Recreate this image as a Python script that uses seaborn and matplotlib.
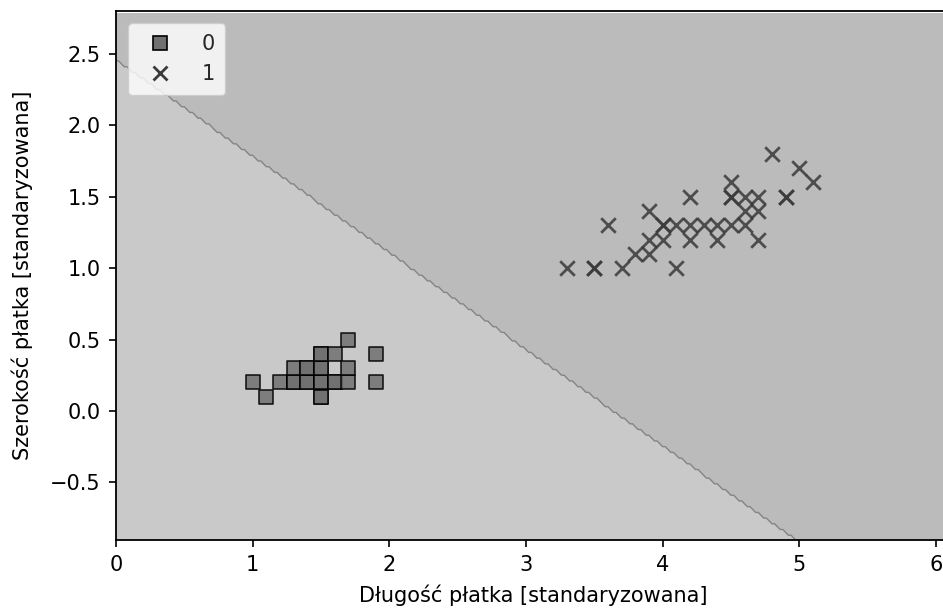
import numpy as np
import pandas as pd
import seaborn as sns
import matplotlib.pyplot as plt
from matplotlib.lines import Line2D

# klasa 0 (kwadraty): dlugosc / szerokosc platka
len_0 = [1.0, 1.1, 1.2, 1.3, 1.3, 1.3, 1.4, 1.4, 1.4, 1.4, 1.5, 1.5, 1.5, 1.5, 1.5, 1.5,
         1.5, 1.5, 1.6, 1.6, 1.6, 1.7, 1.7, 1.7, 1.9, 1.9]
wid_0 = [0.2, 0.1, 0.2, 0.2, 0.2, 0.3, 0.2, 0.2, 0.3, 0.3, 0.1, 0.1, 0.2, 0.2, 0.3, 0.3,
         0.4, 0.4, 0.2, 0.2, 0.4, 0.2, 0.3, 0.5, 0.2, 0.4]

# klasa 1 (krzyzyki)
len_1 = [3.3, 3.5, 3.5, 3.7, 4.1, 3.8, 3.9, 3.9, 4.0, 4.2, 4.4, 4.7, 3.6, 4.0, 4.0, 4.1,
         4.2, 4.3, 4.4, 4.5, 4.6, 3.9, 4.6, 4.7, 4.2, 4.5, 4.5, 4.6, 4.7, 4.9, 4.9, 4.5,
         5.1, 5.0, 4.8]
wid_1 = [1.0, 1.0, 1.0, 1.0, 1.0, 1.1, 1.1, 1.2, 1.2, 1.2, 1.2, 1.2, 1.3, 1.3, 1.3, 1.3,
         1.3, 1.3, 1.3, 1.3, 1.3, 1.4, 1.4, 1.4, 1.5, 1.5, 1.5, 1.5, 1.5, 1.5, 1.5, 1.6,
         1.6, 1.7, 1.8]

# wagi liniowego klasyfikatora (granica decyzyjna)
w_bias, w_len, w_wid = -2.46, 0.676, 1.0

class_labels = ["0", "1"]
region_colors = ["#c9c9c9", "#bbbbbb"]
point_colors = ["#707070", "#3a3a3a"]


def main():
    df = pd.DataFrame({
        "len": len_0 + len_1,
        "wid": wid_0 + wid_1,
        "label": [0] * len(len_0) + [1] * len(len_1),
    })

    sns.set_theme(style="ticks")
    plt.rcParams["font.family"] = ["DejaVu Sans"]
    plt.rcParams["font.size"] = 15

    fig = plt.figure(figsize=(9.43, 6.11), dpi=100)
    ax = fig.add_axes([0.123, 0.117, 0.884, 0.865])

    # siatka regionow decyzyjnych
    x_min, x_max = df["len"].min() - 1, df["len"].max() + 1
    y_min, y_max = df["wid"].min() - 1, df["wid"].max() + 1
    xx, yy = np.meshgrid(np.arange(x_min, x_max, 0.02), np.arange(y_min, y_max, 0.02))
    zz = np.where(w_bias + w_len * xx + w_wid * yy >= 0, 1, 0)
    ax.contourf(xx, yy, zz, levels=[-0.5, 0.5, 1.5], colors=region_colors)
    ax.contour(xx, yy, zz, levels=[0.5], colors="#858585", linewidths=1.0)
    ax.set_xlim(x_min, x_max)
    ax.set_ylim(y_min, y_max)

    d0 = df[df["label"] == 0]
    d1 = df[df["label"] == 1]
    sns.scatterplot(data=d0, x="len", y="wid", marker="s", s=110, color=point_colors[0],
                    edgecolor="black", linewidth=1.2, alpha=0.85, ax=ax, legend=False)
    sns.scatterplot(data=d1, x="len", y="wid", marker="x", s=110, color=point_colors[1],
                    linewidth=2.0, alpha=0.85, ax=ax, legend=False)

    handles = [
        Line2D([], [], ls="", marker="s", markersize=10, markerfacecolor=point_colors[0],
               markeredgecolor="black", markeredgewidth=1.2),
        Line2D([], [], ls="", marker="x", markersize=10, color=point_colors[1],
               markeredgewidth=2.0),
    ]
    ax.legend(handles, class_labels, loc="upper left", fontsize=15, framealpha=0.8,
              handletextpad=1.0, borderpad=0.5, borderaxespad=0.6)

    ax.set_xlabel("Długość płatka [standaryzowana]", fontsize=15, color="black", labelpad=7)
    ax.set_ylabel("Szerokość płatka [standaryzowana]", fontsize=15, color="black", labelpad=12)
    ax.set_xticks([0, 1, 2, 3, 4, 5, 6])
    ax.set_yticks([-0.5, 0.0, 0.5, 1.0, 1.5, 2.0, 2.5])
    ax.tick_params(labelsize=15, length=5, width=1.2, pad=6, color="black", labelcolor="black")
    for sp in ax.spines.values():
        sp.set_linewidth(1.3)
        sp.set_color("black")

    fig.savefig("out.png", dpi=100)
    plt.close(fig)


if __name__ == "__main__":
    main()
